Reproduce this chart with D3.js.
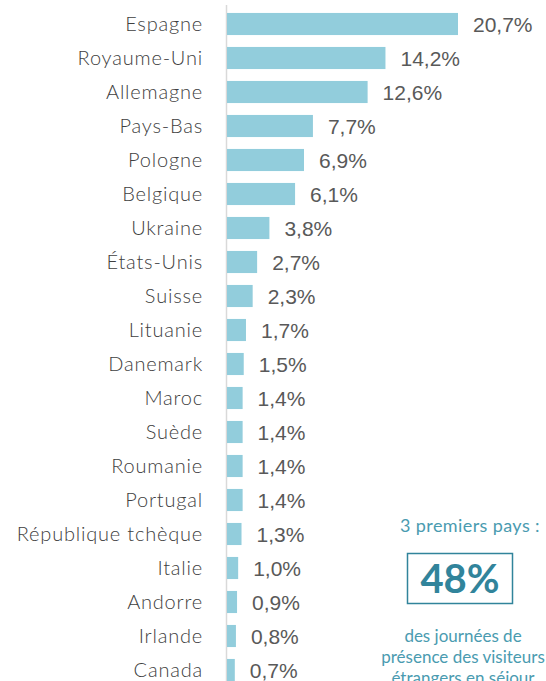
<!DOCTYPE html>
<html>
<head>
<meta charset="utf-8">
<script src="https://cdn.jsdelivr.net/npm/d3@7"></script>
<style>
  body { margin: 0; background: #fff; }
  svg { display: block; }
</style>
</head>
<body>
<svg id="chart" width="546" height="681"></svg>
<script>
// pays et part des journées de présence
const countries = ['Espagne', 'Royaume-Uni', 'Allemagne', 'Pays-Bas', 'Pologne', 'Belgique',
  'Ukraine', 'États-Unis', 'Suisse', 'Lituanie', 'Danemark', 'Maroc', 'Suède', 'Roumanie',
  'Portugal', 'République tchèque', 'Italie', 'Andorre', 'Irlande', 'Canada'];
const shares = [20.7, 14.2, 12.6, 7.7, 6.9, 6.1, 3.8, 2.7, 2.3, 1.7, 1.5, 1.4, 1.4, 1.4,
  1.4, 1.3, 1.0, 0.9, 0.8, 0.7];
const boxTitle = '3 premiers pays :';
const boxValue = '48%';
const boxLines = ['des journées de', 'présence des visiteurs', 'étrangers en séjour'];

const data = countries.map((c, i) => ({ name: c, value: shares[i] }));
const svg = d3.select('#chart');

const x = d3.scaleLinear().domain([0, 20.7]).range([227, 458]);
const y = d3.scaleBand().domain(countries).range([7, 687]).paddingInner(0.35).paddingOuter(0.175);

const fmt = v => d3.format('.1f')(v).replace('.', ',') + '%';

// axe vertical
svg.append('line')
  .attr('x1', 226.5).attr('x2', 226.5)
  .attr('y1', 5).attr('y2', 681)
  .attr('stroke', '#d9d9d9').attr('stroke-width', 1.5);

svg.append('g')
  .selectAll('rect')
  .data(data)
  .join('rect')
  .attr('x', x(0))
  .attr('y', d => y(d.name))
  .attr('width', d => x(d.value) - x(0))
  .attr('height', y.bandwidth())
  .attr('fill', '#92cddc');

// étiquettes des pays
svg.append('g')
  .selectAll('text')
  .data(data)
  .join('text')
  .attr('x', 203)
  .attr('y', d => y(d.name) + y.bandwidth() / 2)
  .attr('dy', '0.35em')
  .attr('text-anchor', 'end')
  .attr('font-family', 'Lato, sans-serif')
  .attr('font-weight', 300)
  .attr('font-size', 20)
  .attr('letter-spacing', 0.8)
  .attr('fill', '#404040')
  .text(d => d.name);

// valeurs
svg.append('g')
  .selectAll('text')
  .data(data)
  .join('text')
  .attr('x', d => x(d.value) + 15)
  .attr('y', d => y(d.name) + y.bandwidth() / 2 + 1)
  .attr('dy', '0.35em')
  .attr('font-family', '"Liberation Sans", Arial, sans-serif')
  .attr('font-size', 21)
  .attr('fill', '#595959')
  .text(d => fmt(d.value));

// encadré
const teal = '#31849b';
const box = svg.append('g');
box.append('text')
  .attr('x', 470).attr('y', 532)
  .attr('text-anchor', 'middle')
  .attr('font-family', 'Lato, sans-serif')
  .attr('font-size', 18)
  .attr('letter-spacing', 0.4)
  .attr('fill', '#4a9bb0')
  .text(boxTitle);
box.append('rect')
  .attr('x', 407.5).attr('y', 553.5)
  .attr('width', 105).attr('height', 50)
  .attr('fill', 'none')
  .attr('stroke', teal).attr('stroke-width', 1.5);
box.append('text')
  .attr('x', 460).attr('y', 593)
  .attr('text-anchor', 'middle')
  .attr('font-family', 'Lato, sans-serif')
  .attr('font-weight', 'bold')
  .attr('font-size', 40)
  .attr('fill', teal)
  .text(boxValue);
box.selectAll('text.line')
  .data(boxLines)
  .join('text')
  .attr('class', 'line')
  .attr('x', 463)
  .attr('y', (d, i) => 642 + i * 21)
  .attr('text-anchor', 'middle')
  .attr('font-family', 'Lato, sans-serif')
  .attr('font-size', 17)
  .attr('fill', '#4a9bb0')
  .text(d => d);
</script>
</body>
</html>
